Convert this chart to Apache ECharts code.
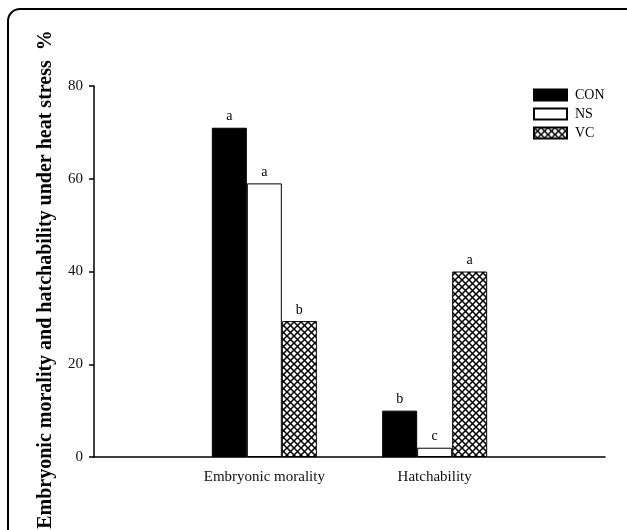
<!DOCTYPE html>
<html>
<head>
<meta charset="utf-8">
<script src="https://cdn.jsdelivr.net/npm/echarts@6/dist/echarts.min.js"></script>
<style>html,body{margin:0;padding:0;background:#fff}#c{width:627px;height:530px}</style>
</head>
<body>
<div id="c"></div>
<script>
const categories = ['Embryonic morality', 'Hatchability'];
const seriesNames = ['CON', 'NS', 'VC'];
const conValues = [71, 10];
const nsValues = [59, 2];
const vcValues = [29.3, 40];
const conLetters = ['a', 'b'];
const nsLetters = ['a', 'c'];
const vcLetters = ['b', 'a'];
const yTicks = [0, 20, 40, 60, 80];
const yTitle = 'Embryonic morality and hatchability under heat stress  %';

// padded categories so that groups sit at 1/3 and 2/3 of the axis
const xCats = [''].concat(categories, ['']);
const pad = arr => [null].concat(arr, [null]);
const padL = arr => [''].concat(arr, ['']);

const P = 7;
const cv = document.createElement('canvas');
cv.width = P; cv.height = P;
const cx = cv.getContext('2d');
cx.fillStyle = '#fff'; cx.fillRect(0, 0, P, P);
cx.strokeStyle = '#000'; cx.lineWidth = 1.5;
cx.beginPath();
cx.moveTo(-1, -1); cx.lineTo(P + 1, P + 1);
cx.moveTo(P + 1, -1); cx.lineTo(-1, P + 1);
cx.stroke();

const serif = '"Liberation Serif", "DejaVu Serif", serif';
const fills = ['#000', '#fff', { image: cv, repeat: 'repeat' }];
const vals = [conValues, nsValues, vcValues];
const lets = [conLetters, nsLetters, vcLetters];

const chart = echarts.init(document.getElementById('c'), null, { renderer: 'canvas' });
chart.setOption({
  animation: false,
  backgroundColor: '#fff',
  graphic: [{
    type: 'rect', silent: true,
    shape: { x: 8, y: 9, width: 632, height: 540, r: 12 },
    style: { fill: null, stroke: '#000', lineWidth: 2 }
  }],
  legend: {
    orient: 'vertical', left: 528, top: 83,
    icon: 'rect',
    itemWidth: 33, itemHeight: 11, itemGap: 5,
    textStyle: { fontFamily: serif, fontSize: 14, color: '#000', padding: [0, 0, 0, 3] },
    data: seriesNames
  },
  grid: { left: 94, right: 22, top: 86, bottom: 73, outerBoundsMode: 'none', containLabel: false },
  xAxis: {
    type: 'category', data: xCats, boundaryGap: false,
    axisLine: { lineStyle: { color: '#000', width: 1.5 } },
    axisTick: { show: false },
    axisLabel: { fontFamily: serif, fontSize: 15, color: '#111', margin: 13 },
    splitLine: { show: false }
  },
  yAxis: {
    type: 'value', min: yTicks[0], max: yTicks[yTicks.length - 1], interval: 20,
    name: yTitle, nameLocation: 'middle', nameGap: 38,
    nameTextStyle: { fontFamily: serif, fontSize: 20, fontWeight: 'bold', color: '#000', padding: [0, 16, 0, 0] },
    axisLine: { show: true, lineStyle: { color: '#000', width: 1.5 } },
    axisTick: { show: true, inside: false, length: 5, lineStyle: { color: '#000', width: 1.5 } },
    axisLabel: { fontFamily: serif, fontSize: 15, color: '#111', margin: 11 },
    splitLine: { show: false }
  },
  series: seriesNames.map((n, i) => ({
    name: n, type: 'bar', barWidth: 35, barGap: '0%',
    data: pad(vals[i]),
    itemStyle: { color: fills[i], borderColor: '#000', borderWidth: 1 },
    label: {
      show: true, position: 'top', distance: 4,
      fontFamily: serif, fontSize: 14, color: '#000',
      formatter: p => padL(lets[i])[p.dataIndex]
    }
  }))
});
</script>
</body>
</html>
